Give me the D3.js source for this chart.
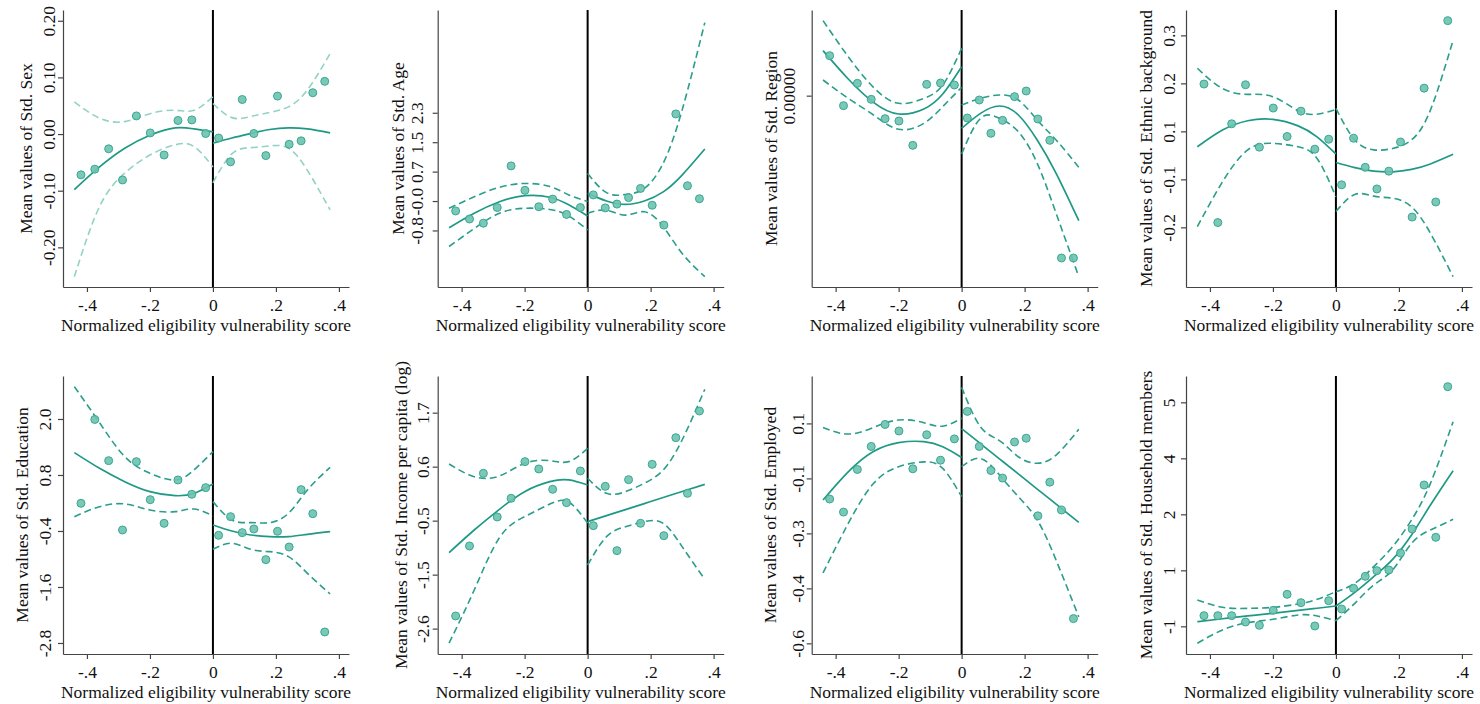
<!DOCTYPE html>
<html>
	<head>
		<title>RD plots of covariates</title>

		<style>
		body {
			margin: 0;
			background: #fff;
		}

		svg {
			display: block;
			font-family: "Liberation Serif", "Times New Roman", serif;
		}

		.axis path,
		.axis line {
			stroke: #444;
			stroke-width: 1.2px;
		}

		.axis text {
			font-family: "Liberation Serif", "Times New Roman", serif;
			font-size: 17.5px;
			fill: #111;
		}

		.title {
			font-size: 17.5px;
			fill: #111;
		}
		</style>

		<script src="https://cdn.jsdelivr.net/npm/d3@7"></script>
	</head>
	<body>
		<svg id="chart" width="1480" height="704"></svg>

		<script>
		// bin midpoints, left and right of the cutoff
		var binsL = [-0.419, -0.375, -0.331, -0.287, -0.243, -0.199, -0.155, -0.111, -0.067, -0.023];
		var binsR = [0.018, 0.056, 0.093, 0.130, 0.168, 0.205, 0.242, 0.280, 0.317, 0.355];

		// x positions where the fitted curves and bands were read
		var gridL = [-0.44, -0.36, -0.28, -0.20, -0.12, -0.06, 0];
		var gridR = [0, 0.06, 0.12, 0.18, 0.24, 0.30, 0.372];

		var xTicks = [-0.4, -0.2, 0, 0.2, 0.4];
		var xLabels = ['-.4', '-.2', '0', '.2', '.4'];

		// Sex
		var sexL = [-0.072, -0.062, -0.026, -0.081, 0.032, 0.002, -0.037, 0.024, 0.025, 0.001];
		var sexR = [-0.007, -0.049, 0.061, 0.001, -0.038, 0.067, -0.018, -0.012, 0.073, 0.093];
		var sexFitL = [-0.098, -0.058, -0.025, -0.002, 0.011, 0.009, 0.004];
		var sexHiL = [0.057, 0.028, 0.022, 0.036, 0.042, 0.042, 0.066];
		var sexLoL = [-0.252, -0.128, -0.069, -0.037, -0.019, -0.022, -0.058];
		var sexFitR = [-0.016, -0.007, 0.001, 0.008, 0.011, 0.009, 0.002];
		var sexHiR = [0.054, 0.029, 0.031, 0.038, 0.048, 0.078, 0.142];
		var sexLoR = [-0.086, -0.035, -0.024, -0.021, -0.025, -0.064, -0.134];
		var sexTicks = [-0.2, -0.1, 0, 0.1, 0.2];
		var sexLabels = ['-0.20', '-0.10', '0.00', '0.10', '0.20'];

		// Age
		var ageL = [-0.29, -0.50, -0.61, -0.20, 0.89, 0.25, -0.18, 0.02, -0.38, -0.20];
		var ageR = [0.13, -0.21, -0.11, 0.06, 0.30, -0.14, -0.66, 2.25, 0.37, 0.03];
		var ageFitL = [-0.73, -0.35, -0.05, 0.11, 0.07, -0.13, -0.42];
		var ageHiL = [-0.22, 0.08, 0.33, 0.43, 0.35, 0.13, -0.04];
		var ageLoL = [-1.22, -0.75, -0.35, -0.22, -0.25, -0.42, -0.79];
		var ageFitR = [0.17, -0.03, -0.12, -0.03, 0.21, 0.65, 1.33];
		var ageHiR = [0.69, 0.19, 0.14, 0.30, 0.96, 2.35, 4.64];
		var ageLoR = [-0.35, -0.27, -0.40, -0.31, -0.70, -1.40, -2.01];
		var ageTicks = [-0.80, -0.03, 0.74, 1.51, 2.28];
		var ageLabels = ['-0.8', '-0.0', '0.7', '1.5', '2.3'];

		// Region
		var regL = [0.120, -0.030, 0.037, -0.011, -0.069, -0.076, -0.149, 0.034, 0.038, 0.032];
		var regR = [-0.067, -0.013, -0.113, -0.074, -0.003, 0.014, -0.070, -0.134, -0.487, -0.487];
		var regFitL = [0.135, 0.050, -0.020, -0.055, -0.040, 0.005, 0.087];
		var regHiL = [0.225, 0.117, 0.025, -0.023, -0.008, 0.032, 0.142];
		var regLoL = [0.047, -0.008, -0.058, -0.101, -0.083, -0.033, 0.025];
		var regFitR = [-0.098, -0.053, -0.031, -0.058, -0.133, -0.233, -0.375];
		var regHiR = [-0.028, -0.008, 0.002, -0.013, -0.073, -0.133, -0.215];
		var regLoR = [-0.175, -0.068, -0.068, -0.108, -0.203, -0.353, -0.543];
		var regTicks = [0];
		var regLabels = ['0.00000'];

		// Ethnic background
		var ethL = [0.188, -0.216, 0.072, 0.186, 0.004, 0.118, 0.035, 0.109, -0.002, 0.027];
		var ethR = [-0.106, 0.030, -0.055, -0.118, -0.066, 0.019, -0.200, 0.176, -0.156, 0.373];
		var ethFitL = [0.005, 0.054, 0.081, 0.085, 0.066, 0.034, -0.016];
		var ethHiL = [0.234, 0.175, 0.158, 0.151, 0.110, 0.100, 0.114];
		var ethLoL = [-0.228, -0.097, -0.004, 0.015, 0.005, -0.029, -0.141];
		var ethFitR = [-0.041, -0.056, -0.066, -0.068, -0.061, -0.045, -0.017];
		var ethHiR = [0.117, 0.025, -0.004, 0.000, 0.025, 0.112, 0.316];
		var ethLoR = [-0.184, -0.134, -0.139, -0.145, -0.170, -0.247, -0.374];
		var ethTicks = [-0.23, -0.09, 0.05, 0.19, 0.33];
		var ethLabels = ['-0.2', '-0.1', '0.1', '0.2', '0.3'];

		// Education
		var eduL = [0.193, 1.990, 1.107, -0.379, 1.086, 0.271, -0.236, 0.693, 0.386, 0.529];
		var eduR = [-0.493, -0.093, -0.436, -0.357, -1.014, -0.407, -0.743, 0.486, -0.029, -2.564];
		var eduFitL = [1.279, 0.943, 0.657, 0.443, 0.357, 0.407, 0.607];
		var eduHiL = [2.693, 1.921, 1.193, 0.836, 0.693, 0.907, 1.300];
		var eduLoL = [-0.093, 0.121, 0.179, 0.050, 0.014, 0.071, -0.079];
		var eduFitR = [-0.271, -0.400, -0.486, -0.521, -0.521, -0.471, -0.414];
		var eduHiR = [0.229, -0.164, -0.221, -0.221, -0.021, 0.479, 0.964];
		var eduLoR = [-0.793, -0.664, -0.793, -0.843, -0.950, -1.307, -1.750];
		var eduTicks = [-2.8, -1.6, -0.4, 0.8, 2.0];
		var eduLabels = ['-2.8', '-1.6', '-0.4', '0.8', '2.0'];

		// Income per capita (log)
		var incL = [-2.358, -0.964, 0.482, -0.387, -0.015, 0.715, 0.569, 0.164, -0.102, 0.529];
		var incR = [-0.560, 0.223, -1.057, 0.356, -0.513, 0.661, -0.759, 1.192, 0.084, 1.723];
		var incFitL = [-1.097, -0.646, -0.234, 0.117, 0.316, 0.350, 0.250];
		var incHiL = [0.668, 0.416, 0.429, 0.681, 0.734, 0.715, 0.980];
		var incLoL = [-2.900, -1.840, -0.800, -0.380, -0.130, -0.090, -0.510];
		var incFitR = [-0.480, -0.360, -0.240, -0.120, 0.000, 0.120, 0.263];
		var incHiR = [0.383, 0.084, 0.117, 0.283, 0.549, 1.146, 2.155];
		var incLoR = [-1.343, -0.779, -0.580, -0.480, -0.513, -0.978, -1.628];
		var incTicks = [-2.61, -1.535, -0.46, 0.615, 1.69];
		var incLabels = ['-2.6', '-1.5', '-0.5', '0.6', '1.7'];

		// Employed
		var empL = [-0.160, -0.198, -0.074, -0.007, 0.057, 0.038, -0.072, 0.027, -0.047, 0.015];
		var empR = [0.095, -0.007, -0.077, -0.099, 0.006, 0.017, -0.209, -0.111, -0.192, -0.508];
		var empFitL = [-0.163, -0.081, -0.022, 0.004, 0.007, -0.008, -0.039];
		var empHiL = [0.048, 0.029, 0.048, 0.070, 0.062, 0.052, 0.075];
		var empLoL = [-0.375, -0.231, -0.115, -0.066, -0.052, -0.071, -0.153];
		var empFitR = [0.045, 0.001, -0.043, -0.087, -0.131, -0.175, -0.228];
		var empHiR = [0.165, 0.050, 0.010, -0.037, -0.056, -0.032, 0.043];
		var empLoR = [-0.066, -0.042, -0.090, -0.153, -0.221, -0.338, -0.503];
		var empTicks = [-0.58, -0.42, -0.26, -0.10, 0.06];
		var empLabels = ['-0.6', '-0.4', '-0.3', '-0.1', '0.1'];

		// Household members
		var hhL = [-0.705, -0.705, -0.705, -0.880, -0.972, -0.557, -0.114, -0.345, -0.990, -0.290];
		var hhR = [-0.520, 0.052, 0.384, 0.541, 0.560, 1.030, 1.694, 2.912, 1.463, 5.634];
		var hhFitL = [-0.871, -0.790, -0.710, -0.640, -0.560, -0.500, -0.437];
		var hhHiL = [-0.271, -0.474, -0.502, -0.474, -0.382, -0.253, -0.040];
		var hhLoL = [-1.470, -1.100, -0.898, -0.806, -0.686, -0.714, -0.843];
		var hhFitR = [-0.437, -0.059, 0.375, 0.855, 1.528, 2.358, 3.309];
		var hhHiR = [-0.040, 0.191, 0.652, 1.205, 1.943, 2.958, 4.665];
		var hhLoR = [-0.843, -0.363, 0.144, 0.560, 1.297, 1.667, 1.962];
		var hhTicks = [-1.0, 0.55, 2.1, 3.65, 5.2];
		var hhLabels = ['-1', '1', '2', '4', '5'];

		var panels = [
			{ title: 'Mean values of Std. Sex', ptsL: sexL, ptsR: sexR, fitL: sexFitL, hiL: sexHiL, loL: sexLoL, fitR: sexFitR, hiR: sexHiR, loR: sexLoR, ticks: sexTicks, labels: sexLabels, domain: [-0.27, 0.219], light: true, tickOff: 8, titleOff: 31 },
			{ title: 'Mean values of Std. Age', ptsL: ageL, ptsR: ageR, fitL: ageFitL, hiL: ageHiL, loL: ageLoL, fitR: ageFitR, hiR: ageHiR, loR: ageLoR, ticks: ageTicks, labels: ageLabels, domain: [-2.28, 4.97], tickOff: 15, titleOff: 34 },
			{ title: 'Mean values of Std. Region', ptsL: regL, ptsR: regR, fitL: regFitL, hiL: regHiL, loL: regLoL, fitR: regFitR, hiR: regHiR, loR: regLoR, ticks: regTicks, labels: regLabels, domain: [-0.574, 0.257], tickOff: 17, titleOff: 35 },
			{ title: 'Mean values of Std. Ethnic background', ptsL: ethL, ptsR: ethR, fitL: ethFitL, hiL: ethHiL, loL: ethLoL, fitR: ethFitR, hiR: ethHiR, loR: ethLoR, ticks: ethTicks, labels: ethLabels, domain: [-0.404, 0.404], tickOff: 11, titleOff: 34 },
			{ title: 'Mean values of Std. Education', ptsL: eduL, ptsR: eduR, fitL: eduFitL, hiL: eduHiL, loL: eduLoL, fitR: eduFitR, hiR: eduHiR, loR: eduLoR, ticks: eduTicks, labels: eduLabels, domain: [-3.036, 2.921], tickOff: 12, titleOff: 35 },
			{ title: 'Mean values of Std. Income per capita (log)', ptsL: incL, ptsR: incR, fitL: incFitL, hiL: incHiL, loL: incLoL, fitR: incFitR, hiR: incHiR, loR: incLoR, ticks: incTicks, labels: incLabels, domain: [-3.115, 2.42], tickOff: 9, titleOff: 31 },
			{ title: 'Mean values of Std. Employed', ptsL: empL, ptsR: empR, fitL: empFitL, hiL: empHiL, loL: empLoL, fitR: empFitR, hiR: empHiR, loR: empLoR, ticks: empTicks, labels: empLabels, domain: [-0.611, 0.198], tickOff: 8, titleOff: 36 },
			{ title: 'Mean values of Std. Household members', ptsL: hhL, ptsR: hhR, fitL: hhFitL, hiL: hhHiL, loL: hhLoL, fitR: hhFitR, hiR: hhHiR, loR: hhLoR, ticks: hhTicks, labels: hhLabels, domain: [-1.766, 5.929], tickOff: 11, titleOff: 34 }
		];

		var colLeft = [63, 437.7, 811.7, 1186];
		var rows = [{ top: 10, bottom: 287 }, { top: 376, bottom: 654 }];
		var plotWidth = 286;

		var lineColor = '#1e9985',
			bandColor = '#2a9d8b',
			bandLight = '#93d3c6',
			dotFill = '#6cc3b0',
			dotStroke = '#3aa790';

		var svg = d3.select('#chart');

		function drawPanel (p, i) {
			var row = rows[Math.floor(i / 4)],
				left = colLeft[i % 4],
				g = svg.append('g').attr('class', 'panel');

			var x = d3.scaleLinear().domain([-0.476, 0.432]).range([left, left + plotWidth]);
			var y = d3.scaleLinear().domain(p.domain).range([row.bottom, row.top]);

			// axes
			g.append('g')
				.attr('class', 'axis')
				.attr('transform', 'translate(0,' + row.bottom + ')')
				.call(d3.axisBottom(x)
					.tickValues(xTicks)
					.tickFormat(function (d, k) { return xLabels[k]; })
					.tickSize(5)
					.tickSizeOuter(0)
					.tickPadding(7));

			var yAxis = g.append('g')
				.attr('class', 'axis')
				.attr('transform', 'translate(' + left + ',0)')
				.call(d3.axisLeft(y)
					.tickValues(p.ticks)
					.tickFormat(function (d, k) { return p.labels[k]; })
					.tickSize(5)
					.tickSizeOuter(0));

			yAxis.selectAll('text')
				.attr('x', null)
				.attr('dy', null)
				.attr('text-anchor', 'middle')
				.attr('transform', 'translate(' + (-p.tickOff) + ',0) rotate(-90)');

			// axis titles
			g.append('text')
				.attr('class', 'title')
				.attr('text-anchor', 'middle')
				.attr('x', left + plotWidth / 2)
				.attr('y', row.bottom + 44)
				.text('Normalized eligibility vulnerability score');

			g.append('text')
				.attr('class', 'title')
				.attr('text-anchor', 'middle')
				.attr('transform', 'translate(' + (left - p.titleOff) + ',' + ((row.top + row.bottom) / 2) + ') rotate(-90)')
				.text(p.title);

			// cutoff
			g.append('line')
				.attr('x1', x(0)).attr('x2', x(0))
				.attr('y1', row.top).attr('y2', row.bottom)
				.attr('stroke', '#000')
				.attr('stroke-width', 2);

			var line = d3.line()
				.x(function (d) { return x(d[0]); })
				.y(function (d) { return y(d[1]); })
				.curve(d3.curveNatural);

			[[gridL, p.hiL], [gridL, p.loL], [gridR, p.hiR], [gridR, p.loR]].forEach(function (s) {
				g.append('path')
					.attr('d', line(d3.zip(s[0], s[1])))
					.attr('fill', 'none')
					.attr('stroke', p.light ? bandLight : bandColor)
					.attr('stroke-width', 1.6)
					.attr('stroke-dasharray', '7,4');
			});

			[[gridL, p.fitL], [gridR, p.fitR]].forEach(function (s) {
				g.append('path')
					.attr('d', line(d3.zip(s[0], s[1])))
					.attr('fill', 'none')
					.attr('stroke', lineColor)
					.attr('stroke-width', 1.7);
			});

			var pts = d3.zip(binsL, p.ptsL).concat(d3.zip(binsR, p.ptsR));

			g.selectAll('circle')
				.data(pts)
				.enter()
				.append('circle')
				.attr('cx', function (d) { return x(d[0]); })
				.attr('cy', function (d) { return y(d[1]); })
				.attr('r', 4)
				.attr('fill', dotFill)
				.attr('fill-opacity', 0.9)
				.attr('stroke', dotStroke)
				.attr('stroke-width', 1);
		}

		panels.forEach(drawPanel);
		</script>
	</body>
</html>
